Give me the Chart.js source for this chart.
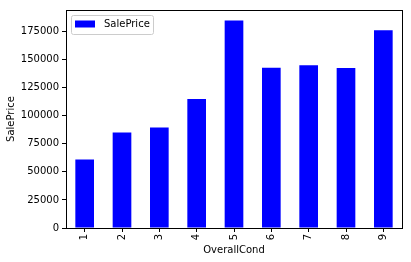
<!DOCTYPE html>
<html><head><meta charset="utf-8">
<script src="https://cdn.jsdelivr.net/npm/chart.js@4"></script>
<style>html,body{margin:0;padding:0;background:#fff;}canvas{display:block;}</style>
</head><body>
<canvas id="c" width="411" height="262"></canvas>
<script>
const categories = ['1','2','3','4','5','6','7','8','9'];
const salePrice = [61000, 85000, 89500, 115000, 185000, 142750, 145000, 142500, 176200];
const yTicks = [0, 25000, 50000, 75000, 100000, 125000, 150000, 175000];
const FONT = "'DejaVu Sans', sans-serif";

const framePlugin = {
  id: 'frame',
  afterDatasetsDraw(chart) {
    const {ctx, chartArea: a} = chart;
    ctx.save();
    ctx.strokeStyle = '#000';
    ctx.lineWidth = 1;
    ctx.strokeRect(Math.round(a.left) + 0.5, Math.round(a.top) + 0.5, Math.round(a.right - a.left), Math.round(a.bottom - a.top));
    // legend (matplotlib style, inside the axes, upper left)
    const ds = chart.data.datasets[0];
    const x = a.left + 5.5, y = a.top + 5.5, w = 82, h = 19;
    ctx.fillStyle = 'rgba(255,255,255,0.8)';
    ctx.strokeStyle = '#cccccc';
    ctx.beginPath();
    if (ctx.roundRect) ctx.roundRect(x, y, w, h, 2); else ctx.rect(x, y, w, h);
    ctx.fill();
    ctx.stroke();
    ctx.fillStyle = ds.backgroundColor;
    ctx.fillRect(x + 3.5, y + 5, 20, 7);
    ctx.fillStyle = '#000';
    ctx.font = "10px " + FONT;
    ctx.textBaseline = 'middle';
    ctx.textAlign = 'left';
    ctx.fillText(ds.label, x + 32.5, y + 9);
    ctx.restore();
  }
};

new Chart(document.getElementById('c'), {
  type: 'bar',
  data: {
    labels: categories,
    datasets: [{
      label: 'SalePrice',
      data: salePrice,
      backgroundColor: '#0000ff',
      borderWidth: 0,
      categoryPercentage: 0.5,
      barPercentage: 1.0
    }]
  },
  options: {
    responsive: false,
    animation: false,
    devicePixelRatio: 1,
    layout: { padding: { top: 10, right: 9, left: 0, bottom: 0 } },
    plugins: {
      tooltip: { enabled: false },
      legend: { display: false }
    },
    scales: {
      x: {
        grid: { display: true, drawOnChartArea: false, drawTicks: true, tickLength: 4, color: '#000', offset: false },
        border: { display: false },
        ticks: { color: '#000', font: { family: FONT, size: 10 }, minRotation: 90, maxRotation: 90, padding: 2 },
        title: { display: true, text: 'OverallCond', color: '#000', font: { family: FONT, size: 10 }, padding: { top: 0, bottom: 6 } },
        afterFit(s) { s.height = 34; }
      },
      y: {
        min: 0,
        max: Math.max(...salePrice) * 1.05,
        afterBuildTicks(s) { s.ticks = yTicks.map(v => ({ value: v })); },
        grid: { display: true, drawOnChartArea: false, drawTicks: true, tickLength: 4, color: '#000' },
        border: { display: false },
        ticks: { color: '#000', font: { family: FONT, size: 10 }, padding: 3, callback: v => String(v) },
        title: { display: true, text: 'SalePrice', color: '#000', font: { family: FONT, size: 10 }, padding: { top: 5, bottom: 4 } },
        afterFit(s) { s.width = 66; }
      }
    }
  },
  plugins: [framePlugin]
});
</script>
</body></html>
